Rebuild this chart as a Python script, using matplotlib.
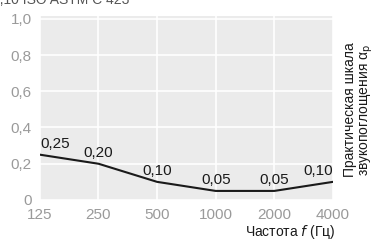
import matplotlib
matplotlib.use("Agg")
import matplotlib.pyplot as plt

plt.rcParams['font.family'] = ['Liberation Sans Narrow', 'Liberation Sans', 'DejaVu Sans']

freqs = ['125', '250', '500', '1000', '2000', '4000']
alpha = [0.25, 0.20, 0.10, 0.05, 0.05, 0.10]
labels = ['0,25', '0,20', '0,10', '0,05', '0,05', '0,10']
yticks = [0, 0.2, 0.4, 0.6, 0.8, 1.0]
ytick_labels = ['0', '0,2', '0,4', '0,6', '0,8', '1,0']

fig = plt.figure(figsize=(3.8, 2.43), dpi=100)
ax = fig.add_axes([0.105, 0.177, 0.771, 0.757])
ax.set_facecolor('#ebebeb')

x = list(range(len(freqs)))
ax.plot(x, alpha, color='#1a1a1a', lw=1.5, zorder=3)
for xi, yi, lab in zip(x, alpha, labels):
    ha = 'left' if xi == 0 else ('right' if xi == len(x) - 1 else 'center')
    ax.annotate(lab, (xi, yi), xytext=(0, 3), textcoords='offset points',
                ha=ha, va='bottom', fontsize=11, color='#1a1a1a', zorder=4)

ax.set_xlim(0, len(freqs) - 1)
ax.set_ylim(0, 1.015)
ax.set_xticks(x)
ax.set_xticklabels(freqs)
ax.set_yticks(yticks)
ax.set_yticklabels(ytick_labels)
ax.grid(True, color='white', lw=1.2)
ax.set_axisbelow(True)
ax.tick_params(length=0, colors='#9a9a9a', labelsize=11, pad=6)
for s in ax.spines.values():
    s.set_visible(False)

fig.text(0.884, 0.008, 'Частота $f$ (Гц)', ha='right', va='bottom',
         fontsize=10, color='#1a1a1a')
fig.text(0.945, 0.547, 'Практическая шкала\nзвукопоглощения α$_\\mathrm{p}$',
         rotation=90, ha='center', va='center', fontsize=10,
         color='#1a1a1a', linespacing=1.0)
# partially visible heading at the very top, as in the reference
fig.text(-0.02, 1.0, '0,10 ISO ASTM C 423', ha='left', va='center',
         fontsize=10, color='#555555')

fig.savefig('out.png', dpi=100)
